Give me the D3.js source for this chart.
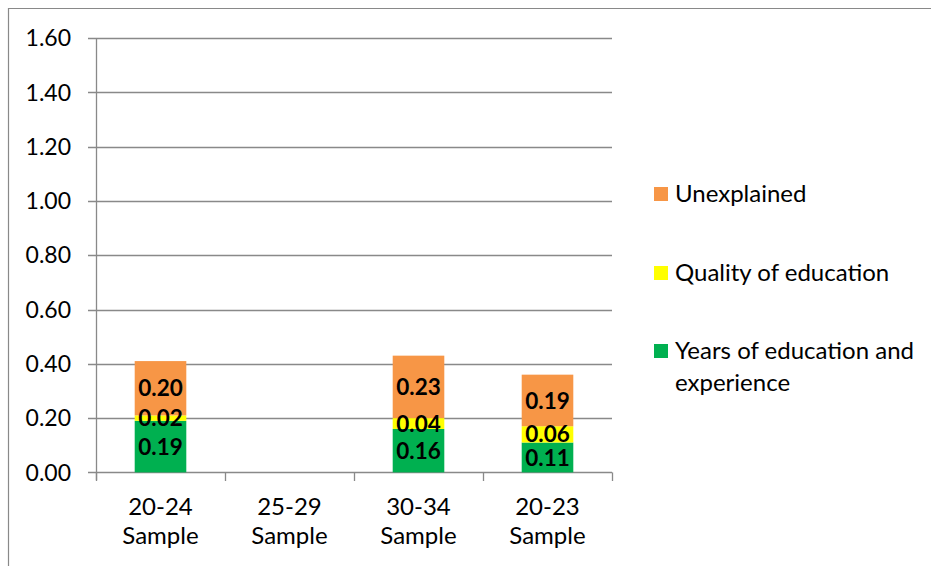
<!DOCTYPE html>
<html>
<head>
<meta charset="utf-8">
<script src="https://cdn.jsdelivr.net/npm/d3@7/dist/d3.min.js"></script>
<style>
  html, body { margin: 0; padding: 0; background: #fff; }
  svg { display: block; font-family: Lato, "Open Sans", sans-serif; }
</style>
</head>
<body>
<svg id="chart" width="931" height="566"></svg>
<script>
// Categories (two-line labels) and stacked series values
const categories = ["20-24 Sample", "25-29 Sample", "30-34 Sample", "20-23 Sample"];
const yearsEduExp = [0.19, null, 0.16, 0.11];
const qualityEdu  = [0.02, null, 0.04, 0.06];
const unexplained = [0.20, null, 0.23, 0.19];
const yTicks = [0, 0.2, 0.4, 0.6, 0.8, 1.0, 1.2, 1.4, 1.6];

const seriesNames = ["Years of education and experience", "Quality of education", "Unexplained"];
const seriesColors = ["#00B050", "#FFFF00", "#F79646"];
const seriesValues = [yearsEduExp, qualityEdu, unexplained];

const svg = d3.select("#chart");
const gridColor = "#898989";

// outer chart frame
svg.append("path")
  .attr("d", "M8.5,566 V8.5 H931")
  .attr("fill", "none").attr("stroke", gridColor).attr("stroke-width", 1.2);

const plot = { left: 96, right: 612, top: 38, bottom: 472.4 };

const y = d3.scaleLinear().domain([0, 1.6]).range([plot.bottom, plot.top]);
const x = d3.scaleBand().domain(categories).range([plot.left, plot.right]).padding(0);
const barW = x.bandwidth() * 0.4;

// horizontal gridlines with tick labels
const grid = svg.append("g");
grid.selectAll("line").data(yTicks).join("line")
  .attr("x1", 88).attr("x2", plot.right)
  .attr("y1", d => Math.round(y(d)) + 0.5).attr("y2", d => Math.round(y(d)) + 0.5)
  .attr("stroke", gridColor).attr("stroke-width", 1.3);
grid.selectAll("text").data(yTicks).join("text")
  .attr("x", 71).attr("y", d => y(d))
  .attr("dy", "0.36em")
  .attr("text-anchor", "end")
  .attr("font-size", 23).attr("fill", "#000")
  .text(d3.format(".2f"));

// vertical axis line
svg.append("line")
  .attr("x1", plot.left + 0.5).attr("x2", plot.left + 0.5)
  .attr("y1", plot.top).attr("y2", 480)
  .attr("stroke", gridColor).attr("stroke-width", 1.3);

// category boundary ticks on the x axis
const boundaries = categories.map(c => x(c)).concat([x(categories[categories.length - 1]) + x.bandwidth()]);
svg.selectAll("line.xtick").data(boundaries).join("line")
  .attr("class", "xtick")
  .attr("x1", d => Math.round(d) + 0.5).attr("x2", d => Math.round(d) + 0.5)
  .attr("y1", plot.bottom).attr("y2", 481)
  .attr("stroke", gridColor).attr("stroke-width", 1.3);

// category labels (two lines each)
const catLabels = svg.append("g").selectAll("text").data(categories).join("text")
  .attr("x", d => x(d) + x.bandwidth() / 2)
  .attr("text-anchor", "middle")
  .attr("font-size", 24).attr("fill", "#000");
catLabels.each(function(d) {
  const parts = d.split(" ");
  const t = d3.select(this);
  t.append("tspan").attr("x", x(d) + x.bandwidth() / 2).attr("y", 515).text(parts[0]);
  t.append("tspan").attr("x", x(d) + x.bandwidth() / 2).attr("y", 544).text(parts[1]);
});

// stacked bars
const rows = categories.map((c, i) => {
  const r = { cat: c };
  seriesNames.forEach((s, k) => { r[s] = seriesValues[k][i] == null ? 0 : seriesValues[k][i]; });
  r.present = seriesValues[0][i] != null;
  return r;
});
const stack = d3.stack().keys(seriesNames)(rows);

stack.forEach((layer, k) => {
  const g = svg.append("g");
  layer.forEach(seg => {
    if (!seg.data.present) return;
    g.append("rect")
      .attr("x", x(seg.data.cat) + (x.bandwidth() - barW) / 2)
      .attr("y", y(seg[1]))
      .attr("width", barW)
      .attr("height", y(seg[0]) - y(seg[1]))
      .attr("fill", seriesColors[k]);
  });
});

// value labels centred in each segment
stack.forEach((layer, k) => {
  const g = svg.append("g");
  layer.forEach(seg => {
    if (!seg.data.present) return;
    g.append("text")
      .attr("x", x(seg.data.cat) + x.bandwidth() / 2)
      .attr("y", (y(seg[0]) + y(seg[1])) / 2)
      .attr("dy", "0.36em")
      .attr("text-anchor", "middle")
      .attr("font-size", 22.5).attr("font-weight", "bold").attr("fill", "#000")
      .text(d3.format(".2f")(seg[1] - seg[0]));
  });
});

// legend (reverse order: top = Unexplained)
const legendItems = [
  { name: "Unexplained", color: seriesColors[2], y: 202, lines: ["Unexplained"] },
  { name: "Quality of education", color: seriesColors[1], y: 281, lines: ["Quality of education"] },
  { name: "Years of education and experience", color: seriesColors[0], y: 359, lines: ["Years of education and", "experience"] }
];
const lg = svg.append("g");
legendItems.forEach(it => {
  lg.append("rect").attr("x", 654).attr("y", it.y - 15).attr("width", 14).attr("height", 14).attr("fill", it.color);
  const t = lg.append("text").attr("font-size", 24).attr("fill", "#000");
  it.lines.forEach((ln, i) => {
    t.append("tspan").attr("x", 675).attr("y", it.y + i * 32).text(ln);
  });
});
</script>
</body>
</html>
